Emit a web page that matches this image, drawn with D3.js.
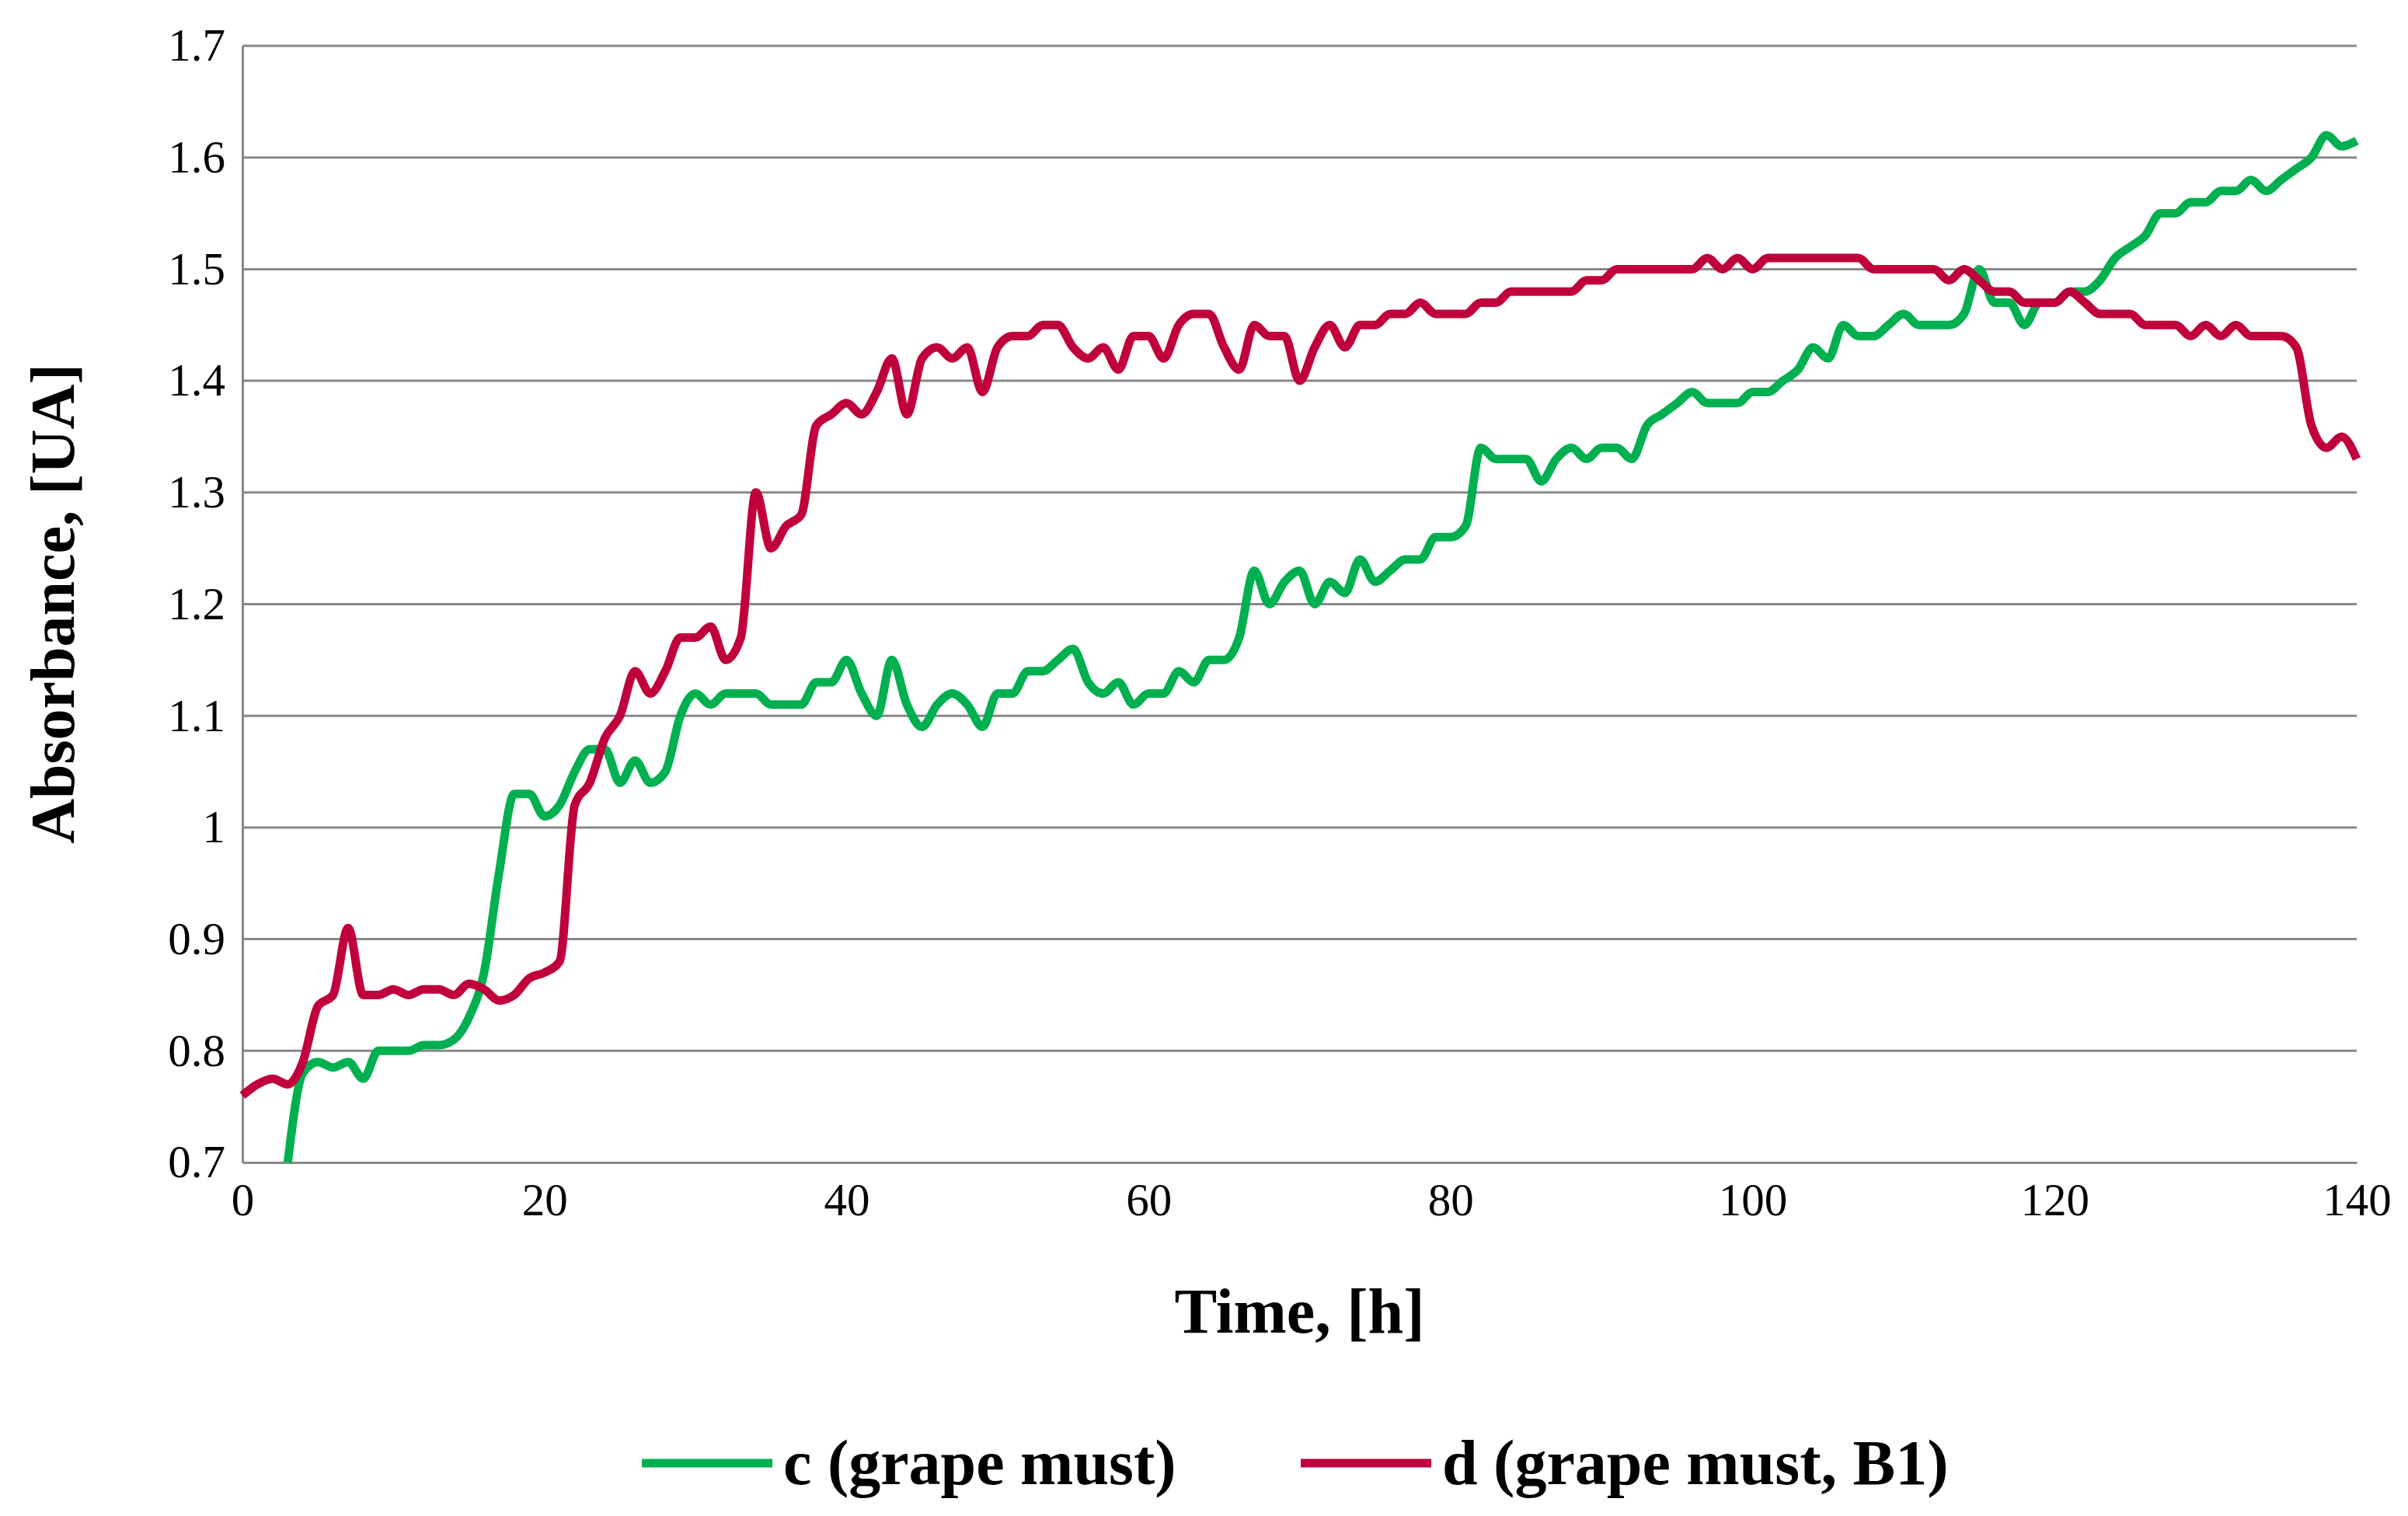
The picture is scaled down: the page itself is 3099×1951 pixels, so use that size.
<!DOCTYPE html><html><head><meta charset="utf-8"><script src="https://cdn.jsdelivr.net/npm/d3@7"></script>
<style>body{margin:0;background:#fff}</style></head><body><svg id="c" width="3099" height="1951"></svg><script>
const timeC=d3.range(3,141);
const valC=[0.70,0.78,0.79,0.785,0.79,0.775,0.80,0.80,0.80,0.805,0.805,0.81,0.83,0.87,0.96,1.03,1.03,1.01,1.02,1.05,1.07,1.07,1.04,1.06,1.04,1.05,1.10,1.12,1.11,1.12,1.12,1.12,1.11,1.11,1.11,1.13,1.13,1.15,1.12,1.10,1.15,1.11,1.09,1.11,1.12,1.11,1.09,1.12,1.12,1.14,1.14,1.15,1.16,1.13,1.12,1.13,1.11,1.12,1.12,1.14,1.13,1.15,1.15,1.17,1.23,1.20,1.22,1.23,1.20,1.22,1.21,1.24,1.22,1.23,1.24,1.24,1.26,1.26,1.27,1.34,1.33,1.33,1.33,1.31,1.33,1.34,1.33,1.34,1.34,1.33,1.36,1.37,1.38,1.39,1.38,1.38,1.38,1.39,1.39,1.40,1.41,1.43,1.42,1.45,1.44,1.44,1.45,1.46,1.45,1.45,1.45,1.46,1.50,1.47,1.47,1.45,1.47,1.47,1.48,1.48,1.49,1.51,1.52,1.53,1.55,1.55,1.56,1.56,1.57,1.57,1.58,1.57,1.58,1.59,1.60,1.62,1.61,1.615];
const timeD=d3.range(0,141);
const valD=[0.76,0.77,0.775,0.77,0.79,0.84,0.85,0.91,0.85,0.85,0.855,0.85,0.855,0.855,0.85,0.86,0.855,0.845,0.85,0.865,0.87,0.88,1.02,1.04,1.08,1.10,1.14,1.12,1.14,1.17,1.17,1.18,1.15,1.17,1.30,1.25,1.27,1.28,1.36,1.37,1.38,1.37,1.39,1.42,1.37,1.42,1.43,1.42,1.43,1.39,1.43,1.44,1.44,1.45,1.45,1.43,1.42,1.43,1.41,1.44,1.44,1.42,1.45,1.46,1.46,1.43,1.41,1.45,1.44,1.44,1.40,1.43,1.45,1.43,1.45,1.45,1.46,1.46,1.47,1.46,1.46,1.46,1.47,1.47,1.48,1.48,1.48,1.48,1.48,1.49,1.49,1.50,1.50,1.50,1.50,1.50,1.50,1.51,1.50,1.51,1.50,1.51,1.51,1.51,1.51,1.51,1.51,1.51,1.50,1.50,1.50,1.50,1.50,1.49,1.50,1.49,1.48,1.48,1.47,1.47,1.47,1.48,1.47,1.46,1.46,1.46,1.45,1.45,1.45,1.44,1.45,1.44,1.45,1.44,1.44,1.44,1.43,1.36,1.34,1.35,1.33];
const seriesNames=["c (grape must)","d (grape must, B1)"];
const colors=["#00b050","#c0003c"];
const yTicks=[0.7,0.8,0.9,1,1.1,1.2,1.3,1.4,1.5,1.6,1.7];
const xTicks=[0,20,40,60,80,100,120,140];

const svg=d3.select("#c"),F="Liberation Serif, Times New Roman, serif";
const L=312,R=3033,T=59,B=1496;
const x=d3.scaleLinear().domain([0,140]).range([L,R]);
const y=d3.scaleLinear().domain([0.7,1.7]).range([B,T]);
const g=svg.append("g");
g.selectAll("line.g").data(yTicks.slice(1)).join("line").attr("x1",L).attr("x2",R).attr("y1",d=>y(d)).attr("y2",d=>y(d)).attr("stroke","#888").attr("stroke-width",3);
const ya=svg.append("g").attr("transform",`translate(${L},0)`).call(d3.axisLeft(y).tickValues(yTicks).tickSize(0).tickPadding(22).tickFormat(d=>String(d)));
ya.select(".domain").attr("stroke","#888").attr("stroke-width",3);
ya.selectAll("text").attr("font-family",F).attr("font-size",59).attr("fill","#000");
const xa=svg.append("g").attr("transform",`translate(0,${B})`).call(d3.axisBottom(x).tickValues(xTicks).tickSize(0).tickPadding(26));
xa.select(".domain").attr("stroke","#888").attr("stroke-width",3);
xa.selectAll("text").attr("font-family",F).attr("font-size",59).attr("fill","#000");
const line=d3.line().curve(d3.curveMonotoneX);
svg.append("path").attr("d",line(timeC.map((t,i)=>[x(t),y(valC[i])]))).attr("fill","none").attr("stroke",colors[0]).attr("stroke-width",11);
svg.append("path").attr("d",line(timeD.map((t,i)=>[x(t),y(valD[i])]))).attr("fill","none").attr("stroke",colors[1]).attr("stroke-width",11);
svg.append("text").attr("x",(L+R)/2).attr("y",1715).attr("text-anchor","middle").attr("font-family",F).attr("font-weight","bold").attr("font-size",82).text("Time, [h]");
svg.append("text").attr("transform","translate(95,777) rotate(-90)").attr("text-anchor","middle").attr("font-family",F).attr("font-weight","bold").attr("font-size",80).text("Absorbance, [UA]");
const lx=[826,1674];
seriesNames.forEach((n,i)=>{
 svg.append("line").attr("x1",lx[i]).attr("x2",lx[i]+168).attr("y1",1883).attr("y2",1883).attr("stroke",colors[i]).attr("stroke-width",11);
 svg.append("text").attr("x",lx[i]+182).attr("y",1910).attr("font-family",F).attr("font-weight","bold").attr("font-size",82).text(n);
});
</script></body></html>
